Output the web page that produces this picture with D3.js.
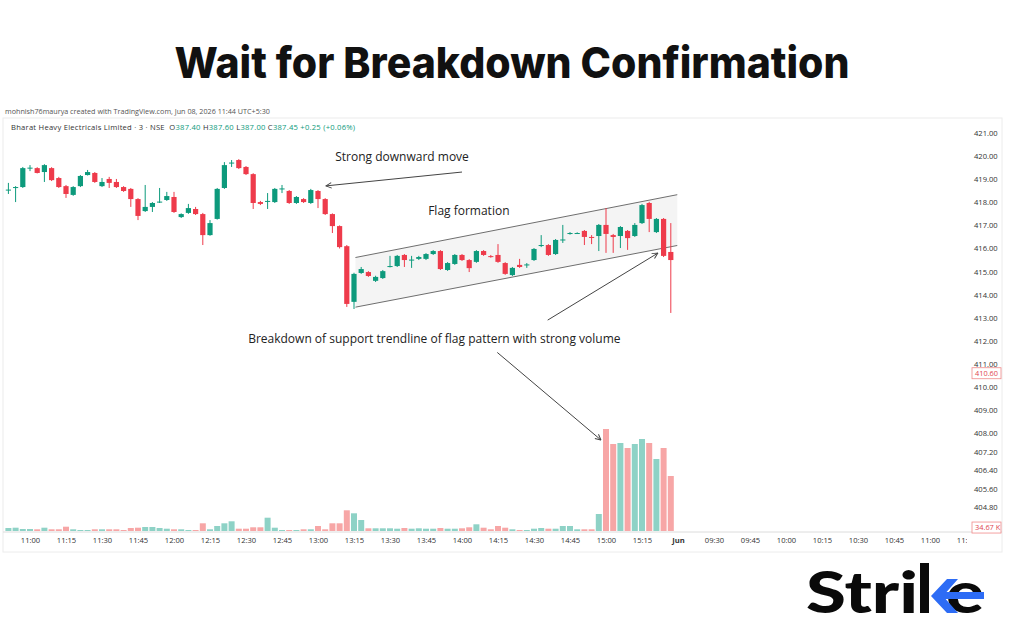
<!DOCTYPE html>
<html>
<head>
<meta charset="utf-8">
<script src="https://cdn.jsdelivr.net/npm/d3@7"></script>
<style>
  body { margin: 0; background: #fff; }
  svg { display: block; }
</style>
</head>
<body>
<div id="chart"></div>
<script>
// 3-minute candles, BHEL, 10:51 -> 15:27 (slot 0 = 10:51)
const opens = [
  418.53, 418.64, 418.66, 419.48, 419.48, 419.31, 419.48, 419.05, 418.70, 418.32,
  418.70, 419.18, 419.27, 418.70, 419.01, 418.88, 418.66, 418.58, 418.14, 417.62,
  417.80, 418.01, 418.10, 418.23, 417.36, 417.54, 417.71, 417.49, 416.58, 417.28,
  418.62, 419.70, 419.83, 419.53, 419.22, 418.01, 418.04, 418.01, 418.58, 418.49,
  417.97, 418.14, 417.97, 418.49, 418.14, 417.49, 416.97, 416.10, 413.69, 414.94,
  414.98, 414.60, 414.72, 415.20, 415.24, 415.72, 415.50, 415.55, 415.55, 415.76,
  415.89, 415.07, 415.33, 415.72, 415.50, 415.42, 415.89, 415.67, 415.72, 415.37,
  414.85, 415.29, 415.29, 415.50, 416.13, 416.15, 415.76, 416.37, 416.63, 416.67,
  416.76, 416.50, 416.54, 417.02, 416.58, 416.54, 416.76, 416.54, 417.10, 417.97,
  416.71, 417.28, 415.85
];
const highs = [
  418.84, 418.70, 419.53, 419.61, 419.52, 419.65, 419.52, 419.10, 418.75, 418.70,
  419.18, 419.40, 419.31, 419.05, 419.10, 419.01, 418.70, 418.62, 418.18, 418.75,
  418.01, 418.62, 418.45, 418.45, 417.52, 417.93, 417.80, 417.54, 417.23, 418.62,
  419.74, 419.83, 419.87, 419.57, 419.26, 418.06, 418.40, 418.62, 418.75, 418.53,
  418.27, 418.18, 418.58, 418.53, 418.18, 417.52, 417.00, 416.15, 414.95, 415.20,
  415.02, 414.82, 415.07, 415.68, 415.72, 415.76, 415.68, 415.68, 415.80, 415.93,
  415.93, 415.41, 415.76, 415.76, 415.54, 415.93, 415.93, 415.72, 416.19, 415.41,
  415.20, 415.55, 415.37, 416.02, 416.58, 416.19, 416.41, 417.02, 416.71, 416.70,
  416.80, 416.58, 417.06, 417.75, 416.63, 416.97, 416.80, 417.10, 417.93, 418.02,
  417.32, 417.32, 417.10
];
const lows = [
  418.36, 418.01, 418.62, 419.35, 419.25, 418.88, 418.92, 418.62, 418.19, 418.28,
  418.66, 419.16, 418.84, 418.66, 418.62, 418.62, 418.45, 417.80, 417.23, 417.58,
  417.58, 417.97, 418.06, 417.54, 417.32, 417.50, 417.45, 416.15, 416.55, 417.25,
  418.58, 419.53, 419.44, 419.18, 417.71, 417.88, 417.71, 417.97, 418.40, 417.93,
  417.93, 417.97, 417.93, 417.75, 417.45, 416.67, 416.00, 413.47, 413.38, 414.90,
  414.77, 414.55, 414.68, 415.18, 415.20, 415.20, 415.16, 415.50, 415.50, 415.72,
  415.07, 415.03, 415.29, 415.46, 414.98, 415.38, 415.68, 415.60, 415.38, 414.86,
  414.81, 415.16, 415.16, 415.46, 416.06, 415.68, 415.72, 416.24, 416.60, 416.63,
  416.15, 416.19, 415.89, 415.81, 415.81, 416.02, 415.94, 416.50, 417.06, 416.71,
  416.67, 415.63, 413.21
];
const closes = [
  418.55, 418.66, 419.48, 419.50, 419.27, 419.61, 418.96, 418.66, 418.36, 418.66,
  419.14, 419.31, 418.88, 418.88, 418.84, 418.66, 418.49, 418.14, 417.41, 417.80,
  417.97, 418.03, 418.27, 417.58, 417.49, 417.75, 417.49, 416.58, 417.10, 418.58,
  419.61, 419.72, 419.48, 419.22, 417.97, 417.93, 418.06, 418.58, 418.60, 417.97,
  418.23, 418.01, 418.53, 418.14, 417.49, 416.97, 416.06, 413.60, 414.90, 415.11,
  414.81, 414.77, 415.02, 415.24, 415.68, 415.50, 415.52, 415.63, 415.76, 415.89,
  415.11, 415.37, 415.72, 415.50, 415.15, 415.89, 415.72, 415.65, 415.42, 414.90,
  415.16, 415.20, 415.31, 415.98, 416.15, 415.72, 416.37, 416.39, 416.67, 416.67,
  416.50, 416.48, 417.02, 416.63, 416.50, 416.93, 416.45, 417.02, 417.88, 417.28,
  417.28, 415.68, 415.50
];
// volume, thousands of shares
const volumes = [
  30, 33, 20, 20, 17, 33, 17, 17, 43, 17,
  10, 10, 17, 17, 17, 17, 10, 30, 33, 40,
  40, 30, 23, 17, 17, 10, 10, 77, 17, 50,
  77, 97, 23, 23, 37, 37, 133, 33, 10, 10,
  10, 17, 17, 50, 17, 77, 77, 207, 177, 110,
  27, 27, 27, 27, 23, 30, 23, 27, 23, 23,
  30, 23, 23, 27, 37, 67, 33, 17, 50, 33,
  17, 10, 10, 23, 30, 23, 23, 50, 50, 17,
  17, 17, 170, 1020, 870, 880, 830, 870, 920, 880,
  720, 830, 550
];

const xTickLabels = ['11:00', '11:15', '11:30', '11:45', '12:00', '12:15', '12:30', '12:45', '13:00',
  '13:15', '13:30', '13:45', '14:00', '14:15', '14:30', '14:45', '15:00', '15:15', 'Jun',
  '09:30', '09:45', '10:00', '10:15', '10:30', '10:45', '11:00', '11:15'];
const xTickSlots = [3, 8, 13, 18, 23, 28, 33, 38, 43, 48, 53, 58, 63, 68, 73, 78, 83, 88, 93,
  98, 103, 108, 113, 118, 123, 128, 133];
const priceTicks = [421, 420, 419, 418, 417, 416, 415, 414, 413, 412, 411, 410, 409, 408, 407.2, 406.4, 405.6, 404.8];

// flag channel, [slot, price] end points
const flagUpper = [[48.2, 415.61], [92.9, 418.33]];
const flagLower = [[48.2, 413.46], [92.9, 416.13]];

const GREEN = '#0d9a7c', RED = '#ee3b4b';
const GREEN_V = '#8ed2c6', RED_V = '#f7a6a6';

const svg = d3.select('#chart').append('svg')
  .attr('width', 1024)
  .attr('height', 640)
  .style('font-family', "'Open Sans', sans-serif");

const defs = svg.append('defs');
defs.append('marker')
  .attr('id', 'arrow')
  .attr('viewBox', '0 0 10 10')
  .attr('refX', 9).attr('refY', 5)
  .attr('markerWidth', 7).attr('markerHeight', 7)
  .attr('orient', 'auto-start-reverse')
  .append('path')
  .attr('d', 'M1,1 L9,5 L1,9')
  .attr('fill', 'none')
  .attr('stroke', '#444')
  .attr('stroke-width', 1.4);
defs.append('clipPath').attr('id', 'plotClip')
  .append('rect').attr('x', 0).attr('y', 118).attr('width', 967).attr('height', 440);

// title
svg.append('text')
  .attr('x', 512).attr('y', 78)
  .attr('text-anchor', 'middle')
  .attr('font-family', 'Inter, Lato, sans-serif')
  .attr('font-weight', 800)
  .attr('font-size', 43)
  .attr('fill', '#111')
  .attr('textLength', 675)
  .attr('lengthAdjust', 'spacingAndGlyphs')
  .text('Wait for Breakdown Confirmation');

// snapshot frame
svg.append('rect')
  .attr('x', 3).attr('y', 118).attr('width', 999).attr('height', 434)
  .attr('fill', 'none').attr('stroke', '#ececec');

svg.append('text')
  .attr('x', 5).attr('y', 114)
  .attr('font-size', 7.2).attr('fill', '#555')
  .text('mohnish76maurya created with TradingView.com, Jun 08, 2026 11:44 UTC+5:30');

const legend = svg.append('text')
  .attr('x', 11).attr('y', 130)
  .attr('font-size', 7.6).attr('fill', '#333')
  .attr('letter-spacing', 0.25)
  .attr('xml:space', 'preserve');
legend.append('tspan').text('Bharat Heavy Electricals Limited · 3 · NSE  ');
[['O', '387.40'], ['H', '387.60'], ['L', '387.00'], ['C', '387.45']].forEach(([k, v]) => {
  legend.append('tspan').attr('fill', '#333').text(k);
  legend.append('tspan').attr('fill', GREEN).text(v + ' ');
});
legend.append('tspan').attr('fill', GREEN).text('+0.25 (+0.06%)');

// scales
const x = d3.scaleLinear().domain([0, 100]).range([8.4, 728.4]);
const y = d3.scaleLinear().domain([421, 404.8]).range([133, 507.2]);
const yv = d3.scaleLinear().domain([0, 1000]).range([531, 431]);

const data = opens.map((o, i) => ({
  i, o, h: highs[i], l: lows[i], c: closes[i], v: volumes[i], up: closes[i] >= o
}));

// flag channel
const poly = [flagUpper[0], flagUpper[1], flagLower[1], flagLower[0]];
svg.append('path')
  .attr('d', 'M' + poly.map(p => `${x(p[0])},${y(p[1])}`).join('L') + 'Z')
  .attr('fill', '#f4f4f4');
[flagUpper, flagLower].forEach(seg => {
  svg.append('line')
    .attr('x1', x(seg[0][0])).attr('y1', y(seg[0][1]))
    .attr('x2', x(seg[1][0])).attr('y2', y(seg[1][1]))
    .attr('stroke', '#6e6e6e').attr('stroke-width', 1);
});

// volume
const plot = svg.append('g').attr('clip-path', 'url(#plotClip)');
plot.selectAll('.vol').data(data).enter().append('rect')
  .attr('class', 'vol')
  .attr('x', d => x(d.i) - 3)
  .attr('width', 6)
  .attr('y', d => yv(d.v))
  .attr('height', d => yv(0) - yv(d.v))
  .attr('fill', d => d.up ? GREEN_V : RED_V);

// candles
const candle = plot.selectAll('.candle').data(data).enter().append('g').attr('class', 'candle');
candle.append('line')
  .attr('x1', d => x(d.i)).attr('x2', d => x(d.i))
  .attr('y1', d => y(d.h)).attr('y2', d => y(d.l))
  .attr('stroke', d => d.up ? GREEN : RED).attr('stroke-width', 1);
candle.append('rect')
  .attr('x', d => x(d.i) - 2.6)
  .attr('width', 5.2)
  .attr('y', d => y(Math.max(d.o, d.c)))
  .attr('height', d => Math.max(1, Math.abs(y(d.o) - y(d.c))))
  .attr('fill', d => d.up ? GREEN : RED);

// bottom axis
svg.append('line')
  .attr('x1', 3).attr('x2', 1002).attr('y1', 532).attr('y2', 532)
  .attr('stroke', '#dcdcdc');

const xAxis = svg.append('g')
  .attr('clip-path', 'url(#plotClip)')
  .append('g')
  .attr('transform', 'translate(0,533)')
  .call(d3.axisBottom(x).tickValues(xTickSlots).tickFormat((d, i) => xTickLabels[i]).tickSize(0).tickPadding(5));
xAxis.select('.domain').remove();
xAxis.selectAll('text')
  .attr('font-family', "'Open Sans', sans-serif")
  .attr('font-size', 7.6)
  .attr('fill', '#333')
  .attr('font-weight', (d, i) => xTickLabels[i] === 'Jun' ? 700 : 400);

// price axis
const yAxis = svg.append('g')
  .attr('transform', 'translate(970,0)')
  .call(d3.axisRight(y).tickValues(priceTicks).tickFormat(d3.format('.2f')).tickSize(0).tickPadding(4));
yAxis.select('.domain').remove();
yAxis.selectAll('text')
  .attr('font-family', "'Open Sans', sans-serif")
  .attr('font-size', 7.6)
  .attr('fill', '#333');

// last-value markers
[[y(410.6), '410.60'], [yv(34.67), '34.67 K']].forEach(([py, label]) => {
  svg.append('rect')
    .attr('x', 972).attr('y', py - 5.5).attr('width', 29).attr('height', 11)
    .attr('fill', '#fff').attr('stroke', '#f08a8a').attr('stroke-width', 0.8);
  svg.append('text')
    .attr('x', 975).attr('y', py + 2.6)
    .attr('font-size', 7.4).attr('fill', '#e0464f')
    .text(label);
});

// annotations
const note = (tx, ty, label) => svg.append('text')
  .attr('x', tx).attr('y', ty)
  .attr('font-size', 12).attr('fill', '#222')
  .text(label);
const arrow = (a, b) => svg.append('line')
  .attr('x1', x(a[0])).attr('y1', y(a[1]))
  .attr('x2', x(b[0])).attr('y2', y(b[1]))
  .attr('stroke', '#444').attr('stroke-width', 1)
  .attr('marker-end', 'url(#arrow)');

note(x(45.4), y(419.79), 'Strong downward move');
arrow([63.0, 419.31], [44.1, 418.71]);
note(x(58.3), y(417.45), 'Flag formation');
note(x(33.3), y(411.91), 'Breakdown of support trendline of flag pattern with strong volume');
arrow([74.9, 412.9], [90.2, 415.8]);
svg.append('line')
  .attr('x1', x(67.9)).attr('y1', y(411.5))
  .attr('x2', x(82.3)).attr('y2', yv(910))
  .attr('stroke', '#444').attr('stroke-width', 1)
  .attr('marker-end', 'url(#arrow)');

// Strike logo
const logo = svg.append('g').attr('font-family', 'Lato, Inter, sans-serif').attr('font-weight', 900);
logo.append('text')
  .attr('x', 806).attr('y', 613)
  .attr('font-size', 57)
  .attr('fill', '#0a0a0a')
  .attr('textLength', 112).attr('lengthAdjust', 'spacingAndGlyphs')
  .text('Stri');
logo.append('rect').attr('x', 920).attr('y', 563).attr('width', 9).attr('height', 50).attr('fill', '#0a0a0a');
logo.append('text')
  .attr('x', 946).attr('y', 613)
  .attr('font-size', 57)
  .attr('fill', '#0a0a0a')
  .attr('textLength', 38).attr('lengthAdjust', 'spacingAndGlyphs')
  .text('e');
logo.append('path')
  .attr('d', 'M947,579 L958,579 L943,596 L958,613 L947,613 L931,596 Z')
  .attr('fill', '#2d6cf5');
logo.append('rect').attr('x', 936).attr('y', 592).attr('width', 48).attr('height', 7).attr('fill', '#2d6cf5');
</script>
</body>
</html>
